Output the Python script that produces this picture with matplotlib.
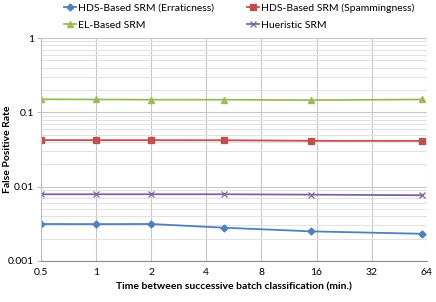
import matplotlib
matplotlib.use("Agg")
import matplotlib.pyplot as plt
from matplotlib.ticker import FixedLocator, FixedFormatter, LogLocator, NullFormatter

plt.rcParams['font.family'] = ['Lato', 'DejaVu Sans']

# Data
minutes = [0.5, 1, 2, 5, 15, 60]
erraticness = [0.00314, 0.00313, 0.00314, 0.0028, 0.0025, 0.00232]
spamminess = [0.0423, 0.0422, 0.0422, 0.0421, 0.0414, 0.0413]
el_based = [0.150, 0.149, 0.148, 0.148, 0.146, 0.149]
heuristic = [0.0079, 0.0079, 0.0079, 0.0079, 0.0078, 0.00765]

x_ticks = [0.5, 1, 2, 4, 8, 16, 32, 64]
x_labels = ['0.5', '1', '2', '4', '8', '16', '32', '64']
y_ticks = [0.001, 0.01, 0.1, 1]
y_labels = ['0.001', '0.01', '0.1', '1']

fig = plt.figure(figsize=(4.36, 3.02), dpi=100)
ax = fig.add_axes([0.094, 0.136, 0.885, 0.738])

l1, = ax.plot(minutes, erraticness, color='#4F81BD', marker='D', ms=3.5, lw=1.3,
              label='HDS-Based SRM (Erraticness)')
l2, = ax.plot(minutes, spamminess, color='#C0504D', marker='s', ms=5, lw=1.3,
              label='HDS-Based SRM (Spammingness)')
l3, = ax.plot(minutes, el_based, color='#9BBB59', marker='^', ms=5, lw=1.3,
              label='EL-Based SRM')
l4, = ax.plot(minutes, heuristic, color='#8064A2', marker='x', ms=5, mew=0.9, lw=1.3,
              label='Hueristic SRM')

ax.set_xscale('log', base=2)
ax.set_yscale('log')
ax.set_xlim(0.5, 64)
ax.set_ylim(0.001, 1)

ax.xaxis.set_major_locator(FixedLocator(x_ticks))
ax.xaxis.set_major_formatter(FixedFormatter(x_labels))
ax.xaxis.set_minor_locator(FixedLocator([]))
ax.yaxis.set_major_locator(FixedLocator(y_ticks))
ax.yaxis.set_major_formatter(FixedFormatter(y_labels))
ax.yaxis.set_minor_locator(LogLocator(base=10, subs=range(2, 10)))
ax.yaxis.set_minor_formatter(NullFormatter())

ax.grid(True, which='major', axis='both', color='#c8c8c8', lw=0.8)
ax.grid(True, which='minor', axis='y', color='#e2e2e2', lw=0.8)
ax.set_axisbelow(True)

for side in ['top', 'right']:
    ax.spines[side].set_visible(False)
ax.spines['left'].set_color('#bfbfbf')
ax.spines['bottom'].set_color('#8c8c8c')
ax.tick_params(axis='y', which='major', length=3, color='#bfbfbf', labelsize=7.5, pad=2)
ax.tick_params(axis='y', which='minor', length=0)
ax.tick_params(axis='x', length=0, labelsize=7.5, pad=5)

ax.set_xlabel('Time between successive batch classification (min.)',
              fontsize=7.5, fontweight='bold', labelpad=4)
ax.set_ylabel('False Positive Rate', fontsize=7.5, fontweight='bold')
ax.yaxis.set_label_coords(-0.075, 0.5)

# legend fills by column, so order handles to get rows like the reference
fig.legend([l1, l3, l2, l4], [l1.get_label(), l3.get_label(), l2.get_label(), l4.get_label()],
           loc='upper left', bbox_to_anchor=(0.125, 1.02), ncol=2, frameon=False,
           fontsize=7.5, handlelength=1.2, handletextpad=0.2, columnspacing=3.1,
           labelspacing=0.75)

fig.savefig('out.png', dpi=100)
